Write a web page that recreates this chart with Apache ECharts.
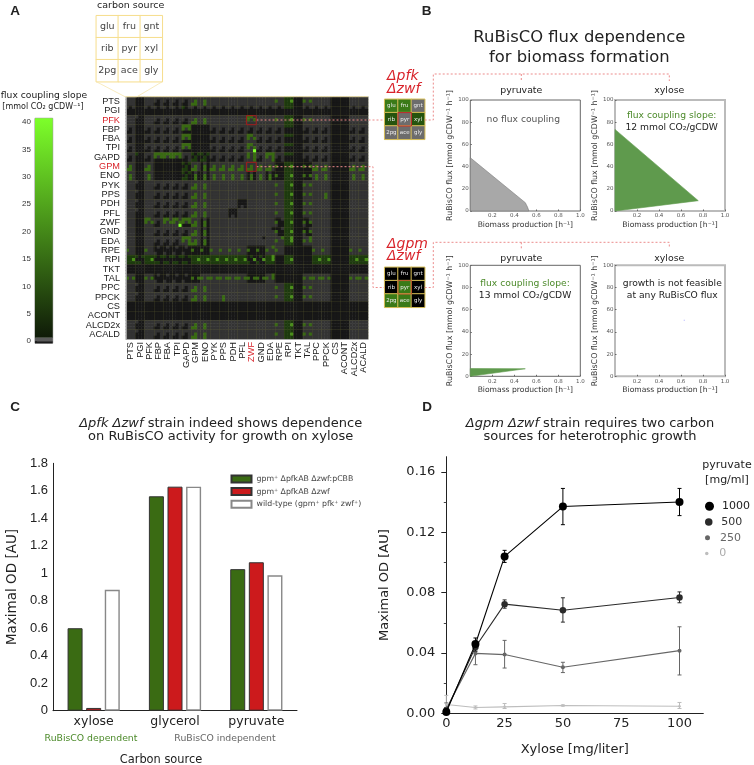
<!DOCTYPE html>
<html>
<head>
<meta charset="utf-8">
<title>RuBisCO flux coupling</title>
<script src="https://cdn.jsdelivr.net/npm/echarts@6/dist/echarts.min.js"></script>
<style>
  html, body { margin: 0; background: #fff; }
  #chart { width: 754px; height: 765px; }
</style>
</head>
<body>
<div id="chart"></div>
<script>
// panel A: reactions and carbon sources
var reactions = ['PTS', 'PGI', 'PFK', 'FBP', 'FBA', 'TPI', 'GAPD', 'GPM', 'ENO', 'PYK', 'PPS', 'PDH', 'PFL',
  'ZWF', 'GND', 'EDA', 'RPE', 'RPI', 'TKT', 'TAL', 'PPC', 'PPCK', 'CS', 'ACONT', 'ALCD2x', 'ACALD']
var carbonSources = ['glu', 'fru', 'gnt', 'rib', 'pyr', 'xyl', '2pg', 'ace', 'gly']

// slope per carbon source, in carbonSources order. -1 = no growth, 0 = no coupling
var cellPatterns = {
  '.': [0, 0, 0, 0, 0, 0, 0, 0, 0],
  '#': [-1, -1, -1, -1, -1, -1, -1, -1, -1],
  n: [0, 0, 0, 0, -1, 0, -1, -1, 0],
  L: [0, 0, 0, 0, 12, 0, 12, 12, 0],
  I: [0, 0, 0, 0, 12, 0, 0, 12, 0],
  i: [-1, 0, -1, -1, 12, -1, -1, 12, -1],
  r: [0, 0, 0, 12, 0, 0, 0, 0, 0],
  x: [0, 0, 0, 12, 0, 12, 0, 0, 0],
  R: [4, 4, 4, 4, 4, 20, 4, 4, 4],
  V: [4, 4, 20, 4, 4, 20, 4, 4, 4],
  M: [-1, 4, -1, -1, -1, 20, 4, -1, -1],
  A: [4, -1, 4, -1, -1, -1, 4, 4, -1],
  c: [0, -1, -1, -1, -1, -1, -1, -1, -1],
  F: [12, 12, 0, 12, 0, 12, 0, 0, 0],
  B: [12, 12, 0, 12, 0, 12, 0, 0, 40],
  T: [12, 12, 12, 12, 0, 12, -1, -1, -1],
  G: [12, 0, 12, 12, 0, 12, 0, 0, 12],
  E: [12, 12, 12, 12, 0, 12, 0, 0, 12],
  D: [4, 4, 4, -1, -1, -1, -1, -1, -1],
  d: [4, -1, 4, -1, 4, -1, 4, 4, -1],
  a: [4, -1, -1, -1, -1, -1, -1, -1, -1],
  p: [0, -1, 0, -1, -1, -1, -1, -1, -1],
  g: [4, -1, 0, -1, -1, -1, -1, -1, -1],
  h: [-1, -1, -1, -1, -1, -1, -1, 0, -1],
  y: [-1, -1, 0, 12, -1, -1, 0, -1, -1],
  z: [-1, -1, 0, 12, -1, 12, 0, -1, -1],
  e: [0, 0, -1, 0, 0, 0, 0, 0, 0],
  k: [-1, 0, -1, -1, -1, -1, 0, -1, -1],
  s: [0, 0, 12, 12, 0, 0, 0, 0, 0],
  t: [0, 0, 12, 12, 0, 12, 0, 0, 0],
  q: [-1, -1, -1, 12, -1, -1, -1, -1, -1],
  w: [-1, -1, -1, 12, -1, 12, -1, -1, -1]
}

// one string per reaction row, one letter per reaction column
var couplingRows = [
  '.#.nnnnLI.......rR#x..##..',
  'p#ppppgppppppppppD#ppp##pp',
  '.c.nnnnLI....F..rR#x..##..',
  'n#nnnnT##nnnnnnnnD#nnn##nn',
  'n#nnnnT##nnnnFnnnD#nnn##nn',
  'n#nnnnT##nnnnBnnnD#nnn##nn',
  'nanTTTnddnnnnGnEnD#nnn##nn',
  'L#L###dLiLLLLLLLqR#wLL##LL',
  'I#I###diiIIIIiIiqR#wII##II',
  '.c.nnnnLI.......rR#x..##..',
  '.c.nnnnLI.......rR#x.I##..',
  '.c.nnnnLI...h...rR#x..##..',
  '.c.nnnnLI..h....rR#x..##..',
  '.#FnFBTLi.......yR#z..##..',
  '.#.nnnnLi......eyR#z..##..',
  '.#.nnnELi.....e.sV#t..##..',
  'r#rkkkkqqrrrrqqsr###rr##rr',
  'RARAAAARRRRRRMMV#R##RR##RR',
  '##########################',
  'x#xkkkkwxxxxxwwt###xxx##xx',
  '.c.nnnnLI.......rR#x..##..',
  '.c.nnnnLI.I.....rR#x..##..',
  '##########################',
  '##########################',
  '.c.nnnnLI.......rR#x..##..',
  '.c.nnnnLI.......rR#x..##..'
]

var colorbarTicks = [0, 5, 10, 15, 20, 25, 30, 35, 40]
var colorbarBelow = [-0.4]
var colorbarGrey = [0.6]
var colorbarScale = [40.1]

var tableCells = [99, 99, 99, 99, 99, 99, 99, 99, 99]
var pfkZwfCells = [12, 12, 0, 8, 0, 8, 0, 0, 0]
var gpmZwfCells = [-1, -1, -1, -1, 12, -1, 12, 12, -1]

// panel B: feasible regions, [biomass, RuBisCO flux]
var pfkPyruvate = [[0, 0], [0, 48], [0.5, 7.5], [0.52, 3.5], [0.533, 0]]
var pfkXylose = [[0, 0], [0, 73.5], [0.757, 9.3]]
var gpmPyruvate = [[0, 0], [0, 7], [0.5, 6.8]]
var gpmXylose = [[0.63, 50.5]]

// panel C
var carbonNames = ['xylose', 'glycerol', 'pyruvate']
var strainNames = ['gpm⁺ ΔpfkAB Δzwf:pCBB', 'gpm⁺ ΔpfkAB Δzwf', 'wild-type (gpm⁺ pfk⁺ zwf⁺)']
var odPcbb = [0.6, 1.56, 1.03]
var odKnockout = [0.02, 1.63, 1.08]
var odWildType = [0.88, 1.63, 0.985]

// panel D
var xyloseDoses = [0, 12.5, 25, 50, 100]
var pyruvateNames = ['1000', '500', '250', '0']
var od1000 = [0.001, 0.046, 0.104, 0.137, 0.140]
var od1000Low = [0, 0.042, 0.100, 0.125, 0.131]
var od1000High = [0.002, 0.050, 0.108, 0.149, 0.149]
var od500 = [0.002, 0.044, 0.0724, 0.0684, 0.0768]
var od500Low = [0, 0.041, 0.0697, 0.0605, 0.0733]
var od500High = [0.004, 0.047, 0.0752, 0.0766, 0.0805]
var od250 = [0.003, 0.0398, 0.039, 0.0306, 0.0416]
var od250Low = [0, 0.0323, 0.0301, 0.0271, 0.0255]
var od250High = [0.007, 0.0473, 0.0484, 0.0339, 0.0574]
var od0 = [0.006, 0.004, 0.0044, 0.0053, 0.0048]
var od0Low = [0.001, 0.003, 0.0033, 0.0049, 0.0033]
var od0High = [0.012, 0.005, 0.0066, 0.0057, 0.0073]

var SANS = 'DejaVu Sans'
var HELV = 'Liberation Sans'
var RED = '#d8232a'
var DOTTED = '#ec8b8b'
var GREEN_TEXT = '#4c8a2a'

var grids = []
var xAxes = []
var yAxes = []
var series = []
var graphics = []

function addGrid(box, xAxis, yAxis) {
  var index = grids.length
  grids.push(Object.assign({ containLabel: false }, box))
  xAxes.push(Object.assign({ gridIndex: index }, xAxis))
  yAxes.push(Object.assign({ gridIndex: index }, yAxis))
  return index
}

function text(x, y, str, o) {
  o = o || {}
  var style = {
    text: str,
    fill: o.color || '#222',
    fontSize: o.size || 10,
    fontFamily: o.family || SANS,
    fontStyle: o.italic ? 'italic' : 'normal',
    fontWeight: o.bold ? 'bold' : 'normal',
    align: o.align || 'center',
    verticalAlign: 'middle'
  }
  if (o.rich) style.rich = o.rich
  graphics.push({ type: 'text', x: x, y: y, z: 50, style: style })
}

function dotted(points) {
  graphics.push({
    type: 'polyline', z: 40, shape: { points: points },
    style: { stroke: DOTTED, lineWidth: 1, lineDash: [2, 2], fill: null }
  })
}

function box(x, y, w, h, color, width) {
  graphics.push({
    type: 'rect', z: 45, shape: { x: x, y: y, width: w, height: h },
    style: { stroke: color, lineWidth: width || 1, fill: null }
  })
}

// ---- panel A heatmap, every reaction pair is split into 3x3 carbon sources
var tripled = []
reactions.forEach(function (r) { tripled.push(r, r, r) })

var heatData = []
couplingRows.forEach(function (row, r) {
  row.split('').forEach(function (code, c) {
    cellPatterns[code].forEach(function (v, k) {
      heatData.push([c * 3 + k % 3, r * 3 + Math.floor(k / 3), v])
    })
  })
})

function everyThird(i) { return i % 3 === 0 }
function middleOfThree(i) { return i % 3 === 1 }

var heatGrid = addGrid({ left: 126, top: 96.7, width: 242, height: 242.3 }, {
  type: 'category', data: tripled, z: 3, position: 'bottom',
  axisLine: { lineStyle: { color: '#aaa', width: 1 } }, axisTick: { show: false },
  splitLine: { show: true, interval: everyThird, lineStyle: { color: 'rgba(95,95,45,0.4)', width: 0.6 } },
  axisLabel: {
    interval: middleOfThree, rotate: 90, margin: 3, fontSize: 9.2, fontFamily: HELV,
    showMinLabel: true, showMaxLabel: true, hideOverlap: false,
    color: function (v) { return v === 'ZWF' ? RED : '#222' }
  }
}, {
  type: 'category', data: tripled, inverse: true, z: 3,
  axisLine: { lineStyle: { color: '#999', width: 1 } }, axisTick: { show: false },
  splitLine: { show: true, interval: everyThird, lineStyle: { color: 'rgba(95,95,45,0.4)', width: 0.6 } },
  axisLabel: {
    interval: middleOfThree, margin: 6, fontSize: 9.2, fontFamily: HELV,
    showMinLabel: true, showMaxLabel: true, hideOverlap: false,
    color: function (v) { return v === 'PFK' || v === 'GPM' ? RED : '#222' }
  }
})
series.push({
  id: 'coupling', type: 'heatmap', xAxisIndex: heatGrid, yAxisIndex: heatGrid, data: heatData,
  progressive: 0, animation: false
})

// ---- colour bar
var barGrid = addGrid({ left: 35, top: 118.3, width: 17.7, height: 225, show: true, borderColor: '#8a8a8a', borderWidth: 1 }, {
  type: 'category', data: ['slope'], show: false
}, {
  type: 'value', min: -0.4, max: 40.7,
  axisLine: { show: false }, splitLine: { show: false },
  axisTick: { show: true, inside: true, length: 2, customValues: colorbarTicks, lineStyle: { color: '#222' } },
  axisLabel: { customValues: colorbarTicks, fontSize: 8, fontFamily: HELV, color: '#333', margin: 4 }
})
var scaleGradient = new echarts.graphic.LinearGradient(0, 0, 0, 1, [
  { offset: 0, color: '#7dff2a' }, { offset: 0.5, color: '#468c19' }, { offset: 1, color: '#0f1a08' }
])
series.push(
  { type: 'bar', xAxisIndex: barGrid, yAxisIndex: barGrid, barWidth: '100%', stack: 'bar', data: colorbarBelow, itemStyle: { color: '#1a1a1a' } },
  { type: 'bar', xAxisIndex: barGrid, yAxisIndex: barGrid, barWidth: '100%', stack: 'bar', data: colorbarGrey, itemStyle: { color: '#5a5a5a' } },
  { type: 'bar', xAxisIndex: barGrid, yAxisIndex: barGrid, barWidth: '100%', stack: 'bar', data: colorbarScale, itemStyle: { color: scaleGradient } }
)

// ---- small 3x3 tables
function smallTable(x, y, size, cells, labelColor, fontSize, borderColor, id) {
  var g = addGrid({ left: x, top: y, width: size, height: size }, {
    type: 'category', data: ['a', 'b', 'c'], show: false
  }, {
    type: 'category', data: ['a', 'b', 'c'], show: false, inverse: true
  })
  series.push({
    id: id, type: 'heatmap', xAxisIndex: g, yAxisIndex: g,
    data: cells.map(function (v, k) { return [k % 3, Math.floor(k / 3), v] }),
    itemStyle: { borderColor: borderColor, borderWidth: 1 },
    label: {
      show: true, fontSize: fontSize, fontFamily: SANS, color: labelColor,
      formatter: function (p) { return carbonSources[p.dataIndex] }
    },
    emphasis: { disabled: true }
  })
}
smallTable(96.3, 15.7, 66, tableCells, '#444', 9.5, '#f6dd8c', 'sourceTable')
smallTable(384.7, 99.3, 40, pfkZwfCells, '#eee', 5.5, '#d6bd55', 'pfkTable')
smallTable(384.7, 267.3, 40, gpmZwfCells, '#eee', 5.5, '#d6bd55', 'gpmTable')

// ---- panel B
function fluxAxes(left, top, frame, frameWidth) {
  return addGrid({ left: left, top: top, width: 110, height: 111, show: true, borderColor: frame, borderWidth: frameWidth }, {
    type: 'value', min: 0, max: 1, interval: 0.2,
    name: 'Biomass production [h⁻¹]', nameLocation: 'middle', nameGap: 10,
    nameTextStyle: { fontSize: 7.6, fontFamily: SANS, color: '#333' },
    axisLine: { show: false }, splitLine: { show: false },
    axisTick: { inside: true, length: 1.5, lineStyle: { color: '#666' } },
    axisLabel: {
      fontSize: 5.5, fontFamily: SANS, color: '#555', margin: 2, showMinLabel: false,
      formatter: function (v) { return v.toFixed(1) }
    }
  }, {
    type: 'value', min: 0, max: 100, interval: 20,
    name: 'RuBisCO flux [mmol gCDW⁻¹ h⁻¹]', nameLocation: 'middle', nameGap: 7,
    nameTextStyle: { fontSize: 7.9, fontFamily: SANS, color: '#333' },
    axisLine: { show: false }, splitLine: { show: false },
    axisTick: { inside: true, length: 1.5, lineStyle: { color: '#666' } },
    axisLabel: { fontSize: 5.5, fontFamily: SANS, color: '#555', margin: 1.5 }
  })
}

function fluxPlot(left, top, pts, fill, stroke, frame, frameWidth) {
  var g = fluxAxes(left, top, frame, frameWidth)
  series.push({
    type: 'custom', xAxisIndex: g, yAxisIndex: g, data: pts, encode: { x: 0, y: 1 }, silent: true,
    renderItem: function (params, api) {
      if (params.dataIndex > 0) return null
      return {
        type: 'polygon',
        shape: { points: pts.map(function (p) { return api.coord(p) }) },
        style: { fill: fill, stroke: stroke, lineWidth: 0.6 }
      }
    }
  })
}
fluxPlot(470.3, 100, pfkPyruvate, '#a8a8a8', '#777', '#666', 1)
fluxPlot(615, 100, pfkXylose, '#5f9a4d', '#5f9a4d', '#bbb', 2)
fluxPlot(470.3, 265.3, gpmPyruvate, '#5f9a4d', '#5f9a4d', '#666', 1)
var emptyPlot = fluxAxes(615, 265.3, '#bbb', 2)
series.push({
  type: 'scatter', xAxisIndex: emptyPlot, yAxisIndex: emptyPlot, data: gpmXylose,
  symbol: 'rect', symbolSize: 1.2, itemStyle: { color: '#aaaaff' }
})

// ---- panel C
var cGrid = addGrid({ left: 53, top: 463.3, width: 244, height: 247.4 }, {
  type: 'category', data: carbonNames,
  axisLine: { lineStyle: { color: '#222', width: 1 } }, axisTick: { show: false },
  axisLabel: { fontSize: 12.5, fontFamily: SANS, color: '#222', margin: 5 }
}, {
  type: 'value', min: 0, max: 1.8, interval: 0.2,
  name: 'Maximal OD [AU]', nameLocation: 'middle', nameGap: 34,
  nameTextStyle: { fontSize: 13.5, fontFamily: SANS, color: '#222' },
  axisLine: { show: true, lineStyle: { color: '#222', width: 1 } }, splitLine: { show: false },
  axisTick: { inside: true, length: 3, lineStyle: { color: '#222' } },
  axisLabel: {
    fontSize: 13, fontFamily: HELV, color: '#222', margin: 5,
    formatter: function (v) { return String(+v.toFixed(1)) }
  }
})
var strainValues = [odPcbb, odKnockout, odWildType]
var strainFills = ['#3a6b13', '#cc1a1c', '#fff']
var strainEdges = ['#333', '#333', '#888']
strainNames.forEach(function (name, i) {
  series.push({
    name: name, type: 'bar', xAxisIndex: cGrid, yAxisIndex: cGrid, data: strainValues[i],
    barWidth: 15, barGap: '24%',
    itemStyle: { color: strainFills[i], borderColor: strainEdges[i], borderWidth: i === 2 ? 1.4 : 1 }
  })
})

// ---- panel D
var dGrid = addGrid({ left: 446.3, top: 456.7, width: 257, height: 256.8 }, {
  type: 'value', min: 0, max: 110.2,
  name: 'Xylose [mg/liter]', nameLocation: 'middle', nameGap: 30,
  nameTextStyle: { fontSize: 13, fontFamily: SANS, color: '#222' },
  axisLine: { lineStyle: { color: '#222', width: 1 } }, axisTick: { show: false }, splitLine: { show: false },
  axisLabel: { customValues: [0, 25, 50, 75, 100], fontSize: 13, fontFamily: SANS, color: '#222', margin: 4 }
}, {
  type: 'value', min: 0, max: 0.17,
  name: 'Maximal OD [AU]', nameLocation: 'middle', nameGap: 55,
  nameTextStyle: { fontSize: 13, fontFamily: SANS, color: '#222' },
  axisLine: { show: true, lineStyle: { color: '#222', width: 1 } }, splitLine: { show: false },
  axisTick: { length: 5, customValues: [0, 0.04, 0.08, 0.12, 0.16], lineStyle: { color: '#222' } },
  axisLabel: {
    customValues: [0, 0.04, 0.08, 0.12, 0.16], fontSize: 13, fontFamily: SANS, color: '#222', margin: 11,
    formatter: function (v) { return v.toFixed(2) }
  }
})
// the half-way ticks are shorter, so they sit on a second axis in the same grid
yAxes.push({
  gridIndex: dGrid, type: 'value', min: 0, max: 0.17, position: 'left',
  axisLine: { show: false }, splitLine: { show: false }, axisLabel: { show: false },
  axisTick: { length: 2.5, customValues: [0.02, 0.06, 0.1, 0.14], lineStyle: { color: '#444' } }
})

var pyruvateMeans = [od1000, od500, od250, od0]
var pyruvateLows = [od1000Low, od500Low, od250Low, od0Low]
var pyruvateHighs = [od1000High, od500High, od250High, od0High]
var pyruvateColors = ['#000000', '#2b2b2b', '#666666', '#bdbdbd']
var pyruvateSizes = [8, 6.5, 4, 2.5]

pyruvateNames.forEach(function (name, i) {
  var color = pyruvateColors[i]
  series.push({
    type: 'custom', xAxisIndex: dGrid, yAxisIndex: dGrid, silent: true, clip: false, z: 5 - i,
    data: xyloseDoses.map(function (x, k) { return [x, pyruvateLows[i][k], pyruvateHighs[i][k]] }),
    encode: { x: 0, y: [1, 2] },
    renderItem: function (params, api) {
      var lo = api.coord([api.value(0), api.value(1)])
      var hi = api.coord([api.value(0), api.value(2)])
      var line = function (x1, y1, x2, y2) {
        return { type: 'line', shape: { x1: x1, y1: y1, x2: x2, y2: y2 }, style: { stroke: color, lineWidth: 1 } }
      }
      return {
        type: 'group', children: [
          line(lo[0], lo[1], hi[0], hi[1]),
          line(lo[0] - 2, lo[1], lo[0] + 2, lo[1]),
          line(hi[0] - 2, hi[1], hi[0] + 2, hi[1])
        ]
      }
    }
  })
  series.push({
    name: name, type: 'line', xAxisIndex: dGrid, yAxisIndex: dGrid, clip: false, z: 6 - i,
    data: xyloseDoses.map(function (x, k) { return [x, pyruvateMeans[i][k]] }),
    symbol: 'circle', showSymbol: true, symbolSize: pyruvateSizes[i],
    lineStyle: { color: color, width: 1.1 }, itemStyle: { color: color }
  })
})

// ---- legends
var legends = [{
  data: strainNames, orient: 'vertical', left: 225.5, top: 469.5, icon: 'rect',
  itemWidth: 20, itemHeight: 7, itemGap: 3.6, selectedMode: false,
  textStyle: { fontSize: 7.8, fontFamily: SANS, color: '#444' }
}]
var legendTextColors = ['#222', '#333', '#666', '#aaa']
pyruvateNames.forEach(function (name, i) {
  legends.push({
    data: [name], left: 700, top: 495.7 + i * 15.8, orient: 'vertical',
    icon: 'circle', itemWidth: 15, itemHeight: pyruvateSizes[i] + 1, selectedMode: false,
    textStyle: { fontSize: 11, fontFamily: SANS, color: legendTextColors[i] }
  })
})

// ---- annotations
text(15, 11, 'A', { bold: true, size: 13.5, family: HELV })
text(426.5, 11, 'B', { bold: true, size: 13.5, family: HELV })
text(15, 407, 'C', { bold: true, size: 13.5, family: HELV })
text(427, 407, 'D', { bold: true, size: 13.5, family: HELV })

text(130.7, 6, 'carbon source', { size: 9.5 })
graphics.push({
  type: 'polyline', z: 40, shape: { points: [[96.3, 81.7], [125, 96.7], [137, 96.7], [162.3, 81.7]] },
  style: { stroke: '#f6e6ae', lineWidth: 0.8, fill: null }
})
graphics.push({
  type: 'line', z: 40, shape: { x1: 126, y1: 96.7, x2: 368, y2: 96.7 },
  style: { stroke: '#f2e4b0', lineWidth: 1 }
})
text(44, 96, 'flux coupling slope', { size: 9.2 })
text(43, 107, '[mmol CO₂ gCDW⁻¹]', { size: 8 })

box(246.4, 115.7, 9.8, 9, '#a01c1c')
box(246.4, 162.3, 9.8, 9, '#a01c1c')
dotted([[256.5, 120], [384.5, 120]])
dotted([[424.7, 120], [433.3, 120], [433.3, 74], [669.3, 74], [669.3, 81]])
dotted([[521.3, 74], [521.3, 81]])
dotted([[256.5, 166.7], [373, 166.7], [373, 287.5], [384.5, 287.5]])
dotted([[424.7, 287.5], [433.3, 287.5], [433.3, 242.3], [669.3, 242.3], [669.3, 248.3]])
dotted([[521.3, 242.3], [521.3, 248.3]])
box(398, 112.6, 13.4, 13.4, '#b8242a')
box(398, 280.6, 13.4, 13.4, '#b8542a')

text(579.3, 37.5, 'RuBisCO flux dependence', { size: 16.4 })
text(579.3, 58, 'for biomass formation', { size: 16.4 })
text(387, 76.7, 'Δpfk', { size: 14, italic: true, color: RED, align: 'left' })
text(387, 89.3, 'Δzwf', { size: 14, italic: true, color: RED, align: 'left' })
text(387, 244, 'Δgpm', { size: 14, italic: true, color: RED, align: 'left' })
text(387, 256.7, 'Δzwf', { size: 14, italic: true, color: RED, align: 'left' })

text(521.3, 91, 'pyruvate', { size: 9.4 })
text(669.3, 91, 'xylose', { size: 9.4 })
text(521.3, 258.5, 'pyruvate', { size: 9.4 })
text(669.3, 258.5, 'xylose', { size: 9.4 })

text(523.3, 120, 'no flux coupling', { size: 9.2, color: '#555' })
text(671.7, 116, 'flux coupling slope:', { size: 9.2, color: GREEN_TEXT })
text(671.7, 128, '12 mmol CO₂/gCDW', { size: 9.2 })
text(525, 283.7, 'flux coupling slope:', { size: 9.2, color: GREEN_TEXT })
text(525, 295.7, '13 mmol CO₂/gCDW', { size: 9.2 })
text(672.3, 283.7, 'growth is not feasible', { size: 9.2 })
text(672.3, 295.7, 'at any RuBisCO flux', { size: 9.2 })

var titleRich = {
  i: { fontSize: 13, fontFamily: SANS, fontStyle: 'italic', fill: '#222' },
  n: { fontSize: 13, fontFamily: SANS, fill: '#222' }
}
text(220.7, 424, '{i|Δpfk Δzwf}{n| strain indeed shows dependence}', { size: 13, rich: titleRich })
text(220.7, 437, 'on RuBisCO activity for growth on xylose', { size: 13 })
text(590, 424, '{i|Δgpm Δzwf}{n| strain requires two carbon}', { size: 13, rich: titleRich })
text(590, 437, 'sources for heterotrophic growth', { size: 13 })

text(91, 738.7, 'RuBisCO dependent', { size: 9.3, color: GREEN_TEXT })
text(225, 738.7, 'RuBisCO independent', { size: 9.3, color: '#666' })
text(161, 760, 'Carbon source', { size: 11.4 })

text(727, 465, 'pyruvate', { size: 11 })
text(727, 480, '[mg/ml]', { size: 11 })

// ---- colour scales
var chart = echarts.init(document.getElementById('chart'))
var seriesIds = series.map(function (s) { return s.id })

chart.setOption({
  backgroundColor: '#fff',
  animation: false,
  textStyle: { fontFamily: SANS },
  grid: grids,
  xAxis: xAxes,
  yAxis: yAxes,
  series: series,
  legend: legends,
  graphic: { elements: graphics },
  visualMap: [{
    show: false, type: 'piecewise', dimension: 2, seriesIndex: seriesIds.indexOf('coupling'),
    pieces: [
      { lt: 0, color: '#171717' },
      { value: 0, color: '#333333' },
      { gt: 0, lte: 5, color: '#1d3a0e' },
      { gt: 5, lte: 15, color: '#386a12' },
      { gt: 15, lte: 30, color: '#4a9019' },
      { gt: 30, color: '#7dff2a' }
    ]
  }, {
    show: false, type: 'piecewise', dimension: 2,
    seriesIndex: [seriesIds.indexOf('sourceTable'), seriesIds.indexOf('pfkTable'), seriesIds.indexOf('gpmTable')],
    pieces: [
      { lt: 0, color: '#000000' },
      { value: 0, color: '#6c6c6c' },
      { gt: 0, lte: 10, color: '#25540e' },
      { gt: 10, lte: 50, color: '#3a7a18' },
      { gt: 50, color: '#ffffff' }
    ]
  }]
})
</script>
</body>
</html>
